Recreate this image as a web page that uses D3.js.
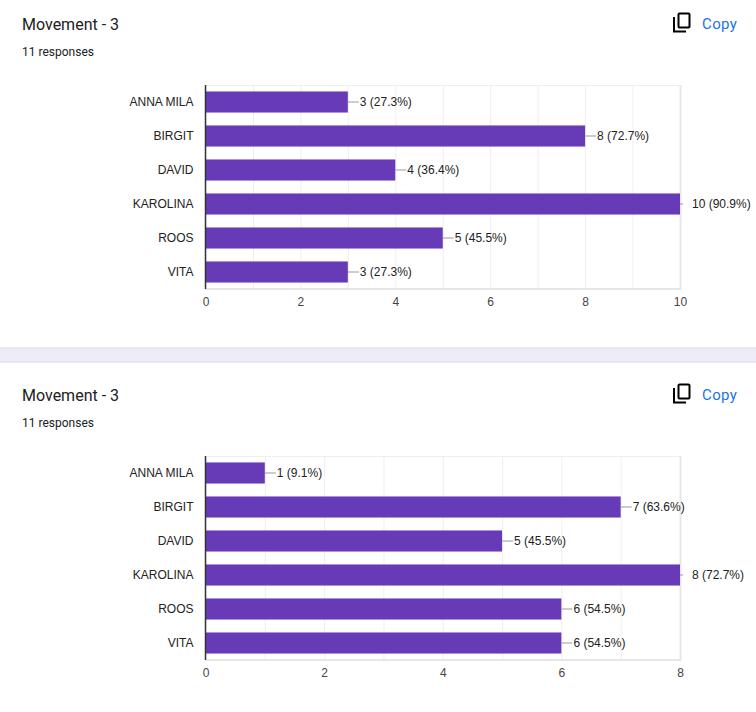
<!DOCTYPE html>
<html>
<head>
<meta charset="utf-8">
<script src="https://cdn.jsdelivr.net/npm/d3@7"></script>
<style>
  html, body { margin: 0; padding: 0; background: #f0ebf8; }
  svg { display: block; }
</style>
</head>
<body>
<svg width="756" height="712"></svg>
<script>
const svg = d3.select("svg");

const width = +svg.attr("width");
const height = +svg.attr("height");

// data
const title = "Movement - 3";
const responses = 11;
const names = ["ANNA MILA", "BIRGIT", "DAVID", "KAROLINA", "ROOS", "VITA"];
const counts1 = [3, 8, 4, 10, 5, 3];
const counts2 = [1, 7, 5, 8, 6, 6];
const ticks1 = [0, 2, 4, 6, 8, 10];
const ticks2 = [0, 2, 4, 6, 8];

const chartFont = "Arial, 'Liberation Sans', sans-serif";
const headFont = "Roboto, 'Noto Sans', sans-serif";

const drawCopy = (g) => {
  // material "content_copy" icon, roughly
  g.append("path")
    .attr("d", "M674 26 V40.5 H686")
    .attr("fill", "none")
    .attr("stroke", "#000")
    .attr("stroke-width", 2);
  g.append("rect")
    .attr("x", 678.5).attr("y", 22.5)
    .attr("width", 11).attr("height", 14)
    .attr("rx", 1)
    .attr("fill", "none")
    .attr("stroke", "#000")
    .attr("stroke-width", 2);
  g.append("text")
    .attr("x", 702).attr("y", 38)
    .attr("font-family", headFont)
    .attr("font-size", 15)
    .attr("fill", "#1a73e8")
    .attr("letter-spacing", 0.4)
    .text("Copy");
};

const render = (top, counts, tickVals) => {
  const card = svg.append("g").attr("transform", `translate(0,${top})`);

  card.append("rect")
    .attr("x", -10).attr("y", 0)
    .attr("width", width + 20).attr("height", 357)
    .attr("rx", 8)
    .attr("fill", "#fff")
    .attr("stroke", "#dadce0");

  card.append("text")
    .attr("x", 22).attr("y", 39)
    .attr("font-family", headFont)
    .attr("font-size", 16)
    .attr("fill", "#202124")
    .text(title);

  card.append("text")
    .attr("x", 22).attr("y", 65)
    .attr("font-family", headFont)
    .attr("font-size", 12)
    .attr("fill", "#202124")
    .text(`${responses} responses`);

  drawCopy(card);

  const margin = { top: 94, left: 205.5 };
  const innerWidth = 474.5;
  const innerHeight = 204;

  const g = card.append("g")
    .attr("transform", `translate(${margin.left},${margin.top})`);

  const xMax = d3.max(tickVals);
  const xScale = d3.scaleLinear().domain([0, xMax]).range([0, innerWidth]);
  const yScale = d3.scaleBand()
    .domain(names)
    .range([0, innerHeight])
    .paddingInner(0.38)
    .paddingOuter(0.19);

  // gridlines every unit
  g.append("g")
    .selectAll("line")
    .data(d3.range(0, xMax + 1))
    .enter()
    .append("line")
    .attr("x1", (d) => xScale(d) + 0.5)
    .attr("x2", (d) => xScale(d) + 0.5)
    .attr("y1", 0)
    .attr("y2", innerHeight)
    .attr("stroke", (d) => (d === xMax ? "#e6e6e6" : "#efefef"))
    .attr("stroke-width", (d) => (d === xMax ? 2 : 1));

  g.append("line")
    .attr("x1", 0).attr("x2", innerWidth)
    .attr("y1", 0.5).attr("y2", 0.5)
    .attr("stroke", "#efefef");
  g.append("line")
    .attr("x1", 0).attr("x2", innerWidth + 1)
    .attr("y1", innerHeight).attr("y2", innerHeight)
    .attr("stroke", "#e6e6e6")
    .attr("stroke-width", 2);

  const rows = names.map((name, i) => ({ name, value: counts[i] }));

  g.selectAll("rect.bar")
    .data(rows)
    .enter()
    .append("rect")
    .attr("class", "bar")
    .attr("x", 0)
    .attr("y", (d) => yScale(d.name))
    .attr("width", (d) => xScale(d.value))
    .attr("height", yScale.bandwidth())
    .attr("fill", "#673ab7");

  // left axis line
  g.append("line")
    .attr("x1", 0).attr("x2", 0)
    .attr("y1", 0).attr("y2", innerHeight)
    .attr("stroke", "#333")
    .attr("stroke-width", 1.5);

  // leader lines
  g.selectAll("line.lead")
    .data(rows)
    .enter()
    .append("line")
    .attr("class", "lead")
    .attr("x1", (d) => xScale(d.value))
    .attr("x2", (d) => xScale(d.value) + (d.value === xMax ? 3 : 11))
    .attr("y1", (d) => yScale(d.name) + yScale.bandwidth() / 2)
    .attr("y2", (d) => yScale(d.name) + yScale.bandwidth() / 2)
    .attr("stroke", "#999");

  g.selectAll("text.val")
    .data(rows)
    .enter()
    .append("text")
    .attr("class", "val")
    .attr("x", (d) => xScale(d.value) + 12)
    .attr("y", (d) => yScale(d.name) + yScale.bandwidth() / 2)
    .attr("dy", "0.35em")
    .attr("font-family", chartFont)
    .attr("font-size", 12)
    .attr("fill", "#222")
    .text((d) => `${d.value} (${((d.value / responses) * 100).toFixed(1)}%)`);

  g.selectAll("text.name")
    .data(rows)
    .enter()
    .append("text")
    .attr("class", "name")
    .attr("x", -12)
    .attr("y", (d) => yScale(d.name) + yScale.bandwidth() / 2)
    .attr("dy", "0.35em")
    .attr("text-anchor", "end")
    .attr("font-family", chartFont)
    .attr("font-size", 12)
    .attr("fill", "#222")
    .text((d) => d.name);

  const xAxis = d3.axisBottom(xScale)
    .tickValues(tickVals)
    .tickSize(0)
    .tickPadding(8);

  const xAxisG = g.append("g")
    .attr("transform", `translate(0,${innerHeight})`)
    .call(xAxis);
  xAxisG.select(".domain").remove();
  xAxisG.selectAll("text")
    .attr("font-family", chartFont)
    .attr("font-size", 12)
    .attr("fill", "#444");
};

render(-9, counts1, ticks1);
render(362, counts2, ticks2);
</script>
</body>
</html>
